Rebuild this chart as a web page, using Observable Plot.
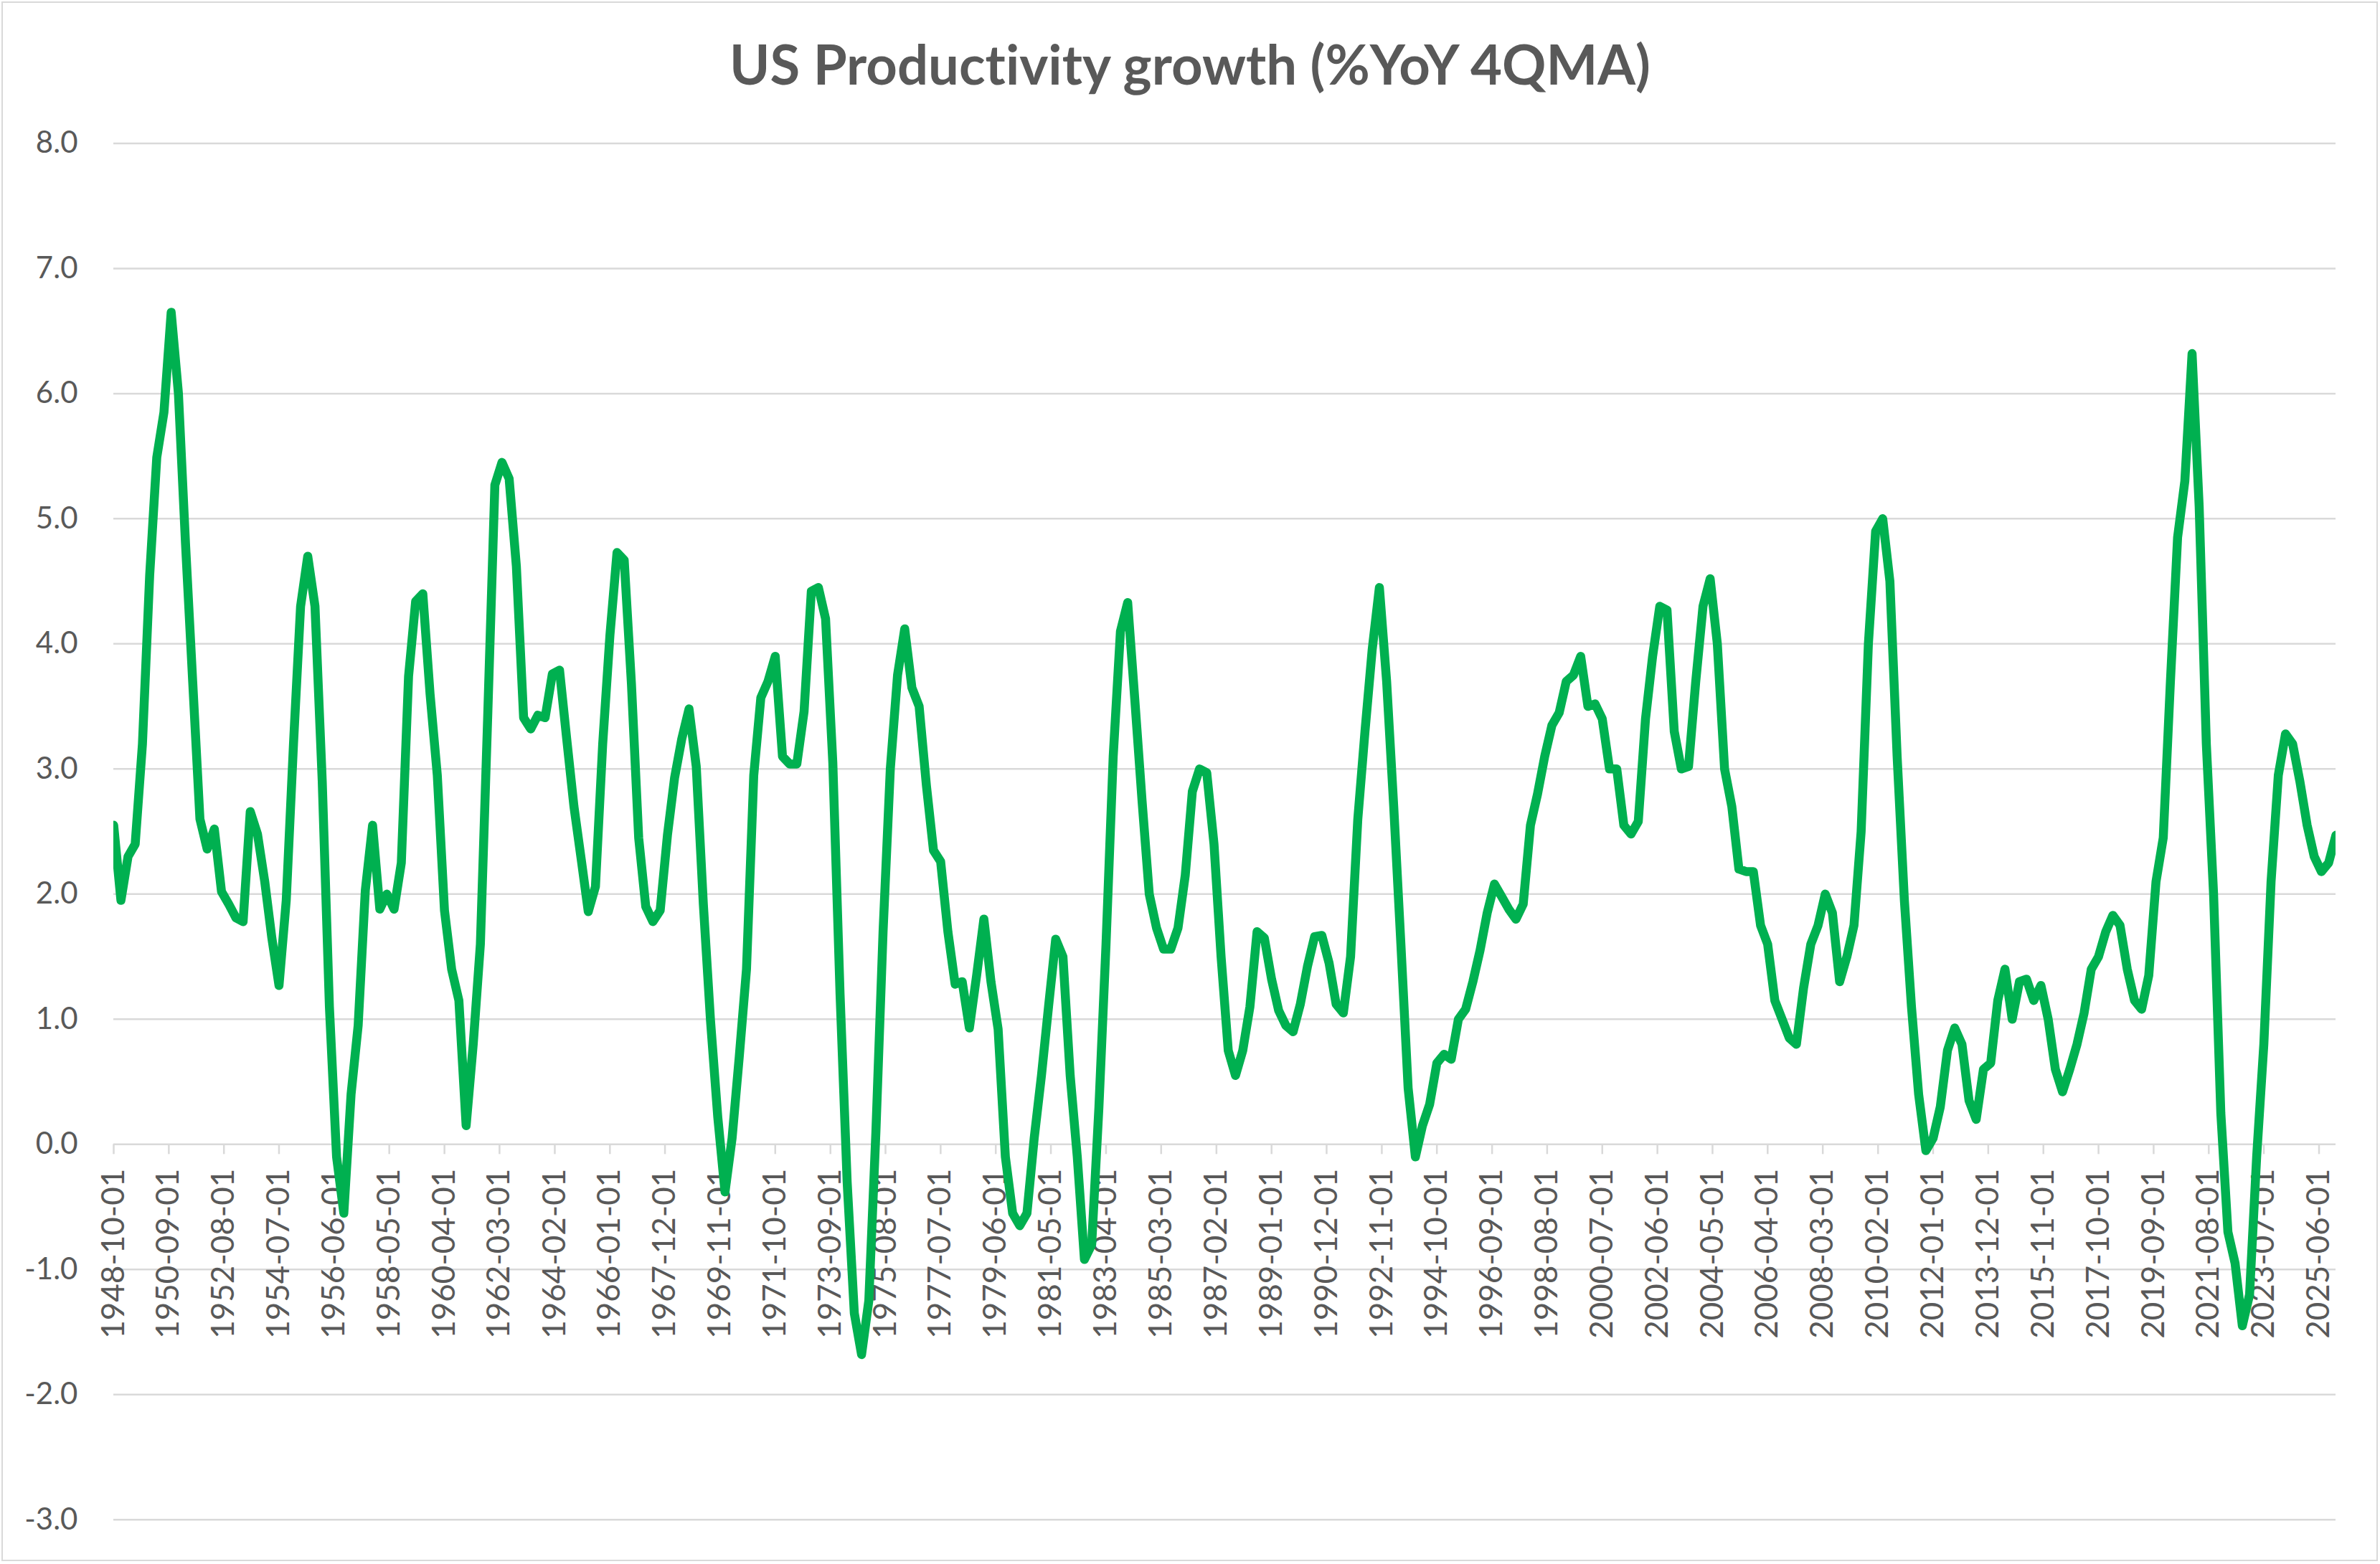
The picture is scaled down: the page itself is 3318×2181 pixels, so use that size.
<!DOCTYPE html>
<html>
<head>
<meta charset="utf-8">
<script src="https://cdn.jsdelivr.net/npm/d3@7"></script>
<script src="https://cdn.jsdelivr.net/npm/@observablehq/plot@0.6"></script>
<style>
  html, body { margin: 0; padding: 0; background: #ffffff; }
  #wrap { position: relative; width: 3318px; height: 2181px; overflow: hidden; background: #ffffff; }
  #frame { position: absolute; left: 2px; top: 2px; width: 3313px; height: 2175px; border: 2px solid #d9d9d9; box-sizing: border-box; pointer-events: none; }
  #title { box-sizing: border-box; height: 160px; padding-top: 51px; line-height: 76px; font-size: 76px; font-weight: 700;
           font-family: Lato, "Noto Sans", sans-serif; color: #595959; text-align: center; white-space: nowrap;
           font-variant-ligatures: none; font-feature-settings: "liga" 0, "clig" 0; }
  #chart svg { display: block; }
</style>
</head>
<body>
<div id="wrap">
  <div id="title">US Productivity growth (%YoY 4QMA)</div>
  <div id="chart"></div>
  <div id="frame"></div>
</div>
<script>
const startDate = "1948-10-01";
const endDate = "2026-01-01";
const values = [
  2.55, 1.95, 2.3, 2.4, 3.2, 4.55, 5.49, 5.85, 6.65, 6.0,
  4.8, 3.7, 2.6, 2.36, 2.52, 2.02, 1.92, 1.81, 1.78, 2.66,
  2.48, 2.1, 1.65, 1.27, 1.95, 3.2, 4.3, 4.7, 4.3, 2.9,
  1.1, -0.1, -0.55, 0.4, 0.95, 2.03, 2.55, 1.88, 2.0, 1.88,
  2.25, 3.74, 4.34, 4.4, 3.6, 2.95, 1.87, 1.4, 1.15, 0.15,
  0.8, 1.6, 3.4, 5.27, 5.45, 5.32, 4.62, 3.41, 3.32, 3.43,
  3.41, 3.76, 3.79, 3.24, 2.7, 2.28, 1.86, 2.06, 3.2, 4.07,
  4.73, 4.67, 3.68, 2.45, 1.9, 1.78, 1.87, 2.47, 2.93, 3.24,
  3.48, 3.02, 1.92, 0.99, 0.22, -0.38, 0.05, 0.7, 1.4, 2.95,
  3.57, 3.7, 3.9, 3.1, 3.04, 3.04, 3.46, 4.42, 4.45, 4.2,
  3.05, 1.2, -0.3, -1.35, -1.68, -1.25, 0.1, 1.7, 3.0, 3.75,
  4.12, 3.65, 3.5, 2.87, 2.35, 2.26, 1.7, 1.28, 1.3, 0.93,
  1.35, 1.8, 1.3, 0.92, -0.1, -0.55, -0.65, -0.55, 0.05, 0.55,
  1.1, 1.64, 1.5, 0.55, -0.1, -0.92, -0.8, 0.3, 1.6, 3.1,
  4.1, 4.33, 3.55, 2.75, 2.0, 1.73, 1.56, 1.56, 1.73, 2.15,
  2.82, 3.0, 2.97, 2.4, 1.5, 0.75, 0.55, 0.75, 1.1, 1.7,
  1.65, 1.32, 1.07, 0.95, 0.9, 1.12, 1.42, 1.66, 1.67, 1.45,
  1.12, 1.05, 1.5, 2.6, 3.3, 3.95, 4.45, 3.7, 2.7, 1.6,
  0.45, -0.1, 0.15, 0.32, 0.65, 0.72, 0.68, 1.0, 1.08, 1.3,
  1.55, 1.85, 2.08, 1.98, 1.88, 1.8, 1.92, 2.55, 2.8, 3.1,
  3.35, 3.45, 3.7, 3.75, 3.9, 3.5, 3.52, 3.4, 3.0, 3.0,
  2.55, 2.48, 2.58, 3.4, 3.9, 4.3, 4.27, 3.3, 3.0, 3.02,
  3.7, 4.3, 4.52, 4.0, 3.0, 2.7, 2.2, 2.18, 2.18, 1.75,
  1.6, 1.15, 1.0, 0.85, 0.8, 1.25, 1.6, 1.75, 2.0, 1.85,
  1.3, 1.5, 1.75, 2.5, 4.0, 4.9, 5.0, 4.5, 3.1, 1.95,
  1.1, 0.4, -0.05, 0.05, 0.3, 0.75, 0.93, 0.8, 0.35, 0.2,
  0.6, 0.65, 1.15, 1.4, 1.0, 1.3, 1.32, 1.15, 1.27, 1.0,
  0.6, 0.42, 0.6, 0.8, 1.05, 1.4, 1.5, 1.7, 1.83, 1.75,
  1.4, 1.15, 1.08, 1.35, 2.1, 2.45, 3.7, 4.85, 5.3, 6.32,
  5.1, 3.2, 2.0, 0.25, -0.7, -0.95, -1.45, -1.2, -0.1, 0.8,
  2.1, 2.95, 3.28, 3.2, 2.9, 2.55, 2.3, 2.18, 2.25, 2.47
];
const tickLabels = [
  "1948-10-01", "1950-09-01", "1952-08-01", "1954-07-01", "1956-06-01", "1958-05-01",
  "1960-04-01", "1962-03-01", "1964-02-01", "1966-01-01", "1967-12-01", "1969-11-01",
  "1971-10-01", "1973-09-01", "1975-08-01", "1977-07-01", "1979-06-01", "1981-05-01",
  "1983-04-01", "1985-03-01", "1987-02-01", "1989-01-01", "1990-12-01", "1992-11-01",
  "1994-10-01", "1996-09-01", "1998-08-01", "2000-07-01", "2002-06-01", "2004-05-01",
  "2006-04-01", "2008-03-01", "2010-02-01", "2012-01-01", "2013-12-01", "2015-11-01",
  "2017-10-01", "2019-09-01", "2021-08-01", "2023-07-01", "2025-06-01"
];
const yTicks = [-3, -2, -1, 0, 1, 2, 3, 4, 5, 6, 7, 8];

const parse = s => new Date(s + "T00:00:00Z");
const start = parse(startDate);
const data = values.map((v, i) => ({ date: d3.utcMonth.offset(start, 3 * i), value: v }));
const tickDates = tickLabels.map(parse);

const chart = Plot.plot({
  width: 3318,
  height: 2021,
  marginLeft: 158,
  marginRight: 62,
  marginTop: 39.4,
  marginBottom: 62.2,
  style: { fontFamily: "Lato, 'Noto Sans', sans-serif", background: "transparent" },
  x: { type: "utc", domain: [start, parse(endDate)], axis: null },
  y: { domain: [-3, 8], axis: null },
  marks: [
    Plot.ruleY(yTicks, { stroke: "#d9d9d9", strokeWidth: 2.5 }),
    Plot.ruleX(tickDates, { x: d => d, y1: () => 0, y2: () => 0, insetBottom: -14, stroke: "#d9d9d9", strokeWidth: 2.5 }),
    Plot.axisY(yTicks, { tickSize: 0, tickPadding: 50, tickFormat: d => d.toFixed(1), fontSize: 42, color: "#595959", label: null }),
    Plot.text(tickDates, {
      x: d => d, y: () => 0, text: (d, i) => tickLabels[i],
      rotate: -90, textAnchor: "end", lineAnchor: "middle", dy: 34,
      fontSize: 44, fill: "#595959"
    }),
    Plot.line(data, {
      x: "date", y: "value", stroke: "#00b050", strokeWidth: 12.5,
      strokeLinejoin: "round", strokeLinecap: "round", clip: "frame"
    })
  ]
});
document.getElementById("chart").appendChild(chart);
</script>
</body>
</html>
